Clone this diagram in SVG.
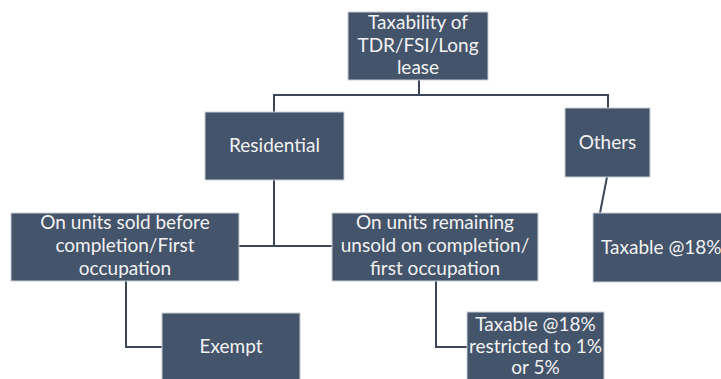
<svg xmlns="http://www.w3.org/2000/svg" width="721" height="379" viewBox="0 0 721 379">
<style>
.box{fill:#44546a;stroke:#c9ced6;stroke-width:1}
.t{font-family:Lato,"Open Sans","Liberation Sans",sans-serif;font-size:19px;fill:#f2f2f2;text-anchor:middle}
.c{fill:none;stroke:#3b4658;stroke-width:2}
</style>
<rect width="721" height="379" fill="#ffffff"/>
<g id="connectors">
<path class="c" d="M419,80 V95"/>
<path class="c" d="M274,112 V95 H608 V108"/>
<path class="c" d="M274,180 V246"/>
<path class="c" d="M239,246 H332"/>
<path class="c" d="M607,177 L600,213"/>
<path class="c" d="M126,281 V347 H162"/>
<path class="c" d="M436,281 V347 H467"/>
</g>
<g id="root">
<rect class="box" x="348" y="12" width="140" height="68"/>
<text class="t" x="418" y="29">Taxability of</text>
<text class="t" x="418" y="52">TDR/FSI/Long</text>
<text class="t" x="418" y="74">lease</text>
</g>
<g id="residential">
<rect class="box" x="205" y="112" width="139" height="68"/>
<text class="t" x="274.5" y="152">Residential</text>
</g>
<g id="others">
<rect class="box" x="565" y="108" width="85" height="69"/>
<text class="t" x="607.5" y="149">Others</text>
</g>
<g id="sold-before">
<rect class="box" x="11" y="213" width="228" height="68"/>
<text class="t" x="125" y="229">On units sold before</text>
<text class="t" x="125" y="252">completion/First</text>
<text class="t" x="125" y="275">occupation</text>
</g>
<g id="unsold">
<rect class="box" x="332" y="213" width="206" height="68"/>
<text class="t" x="435" y="229">On units remaining</text>
<text class="t" x="435" y="252">unsold on completion/</text>
<text class="t" x="435" y="275">first occupation</text>
</g>
<g id="others-taxable">
<rect class="box" x="593" y="213" width="150" height="69"/>
<text class="t" x="601" y="254" style="text-anchor:start">Taxable @18%</text>
</g>
<g id="exempt">
<rect class="box" x="162" y="313" width="138" height="80"/>
<text class="t" x="231" y="353">Exempt</text>
</g>
<g id="taxable-restricted">
<rect class="box" x="467" y="312" width="137" height="80"/>
<text class="t" x="535.5" y="331">Taxable @18%</text>
<text class="t" x="535.5" y="353">restricted to 1%</text>
<text class="t" x="535.5" y="374">or 5%</text>
</g>
</svg>
